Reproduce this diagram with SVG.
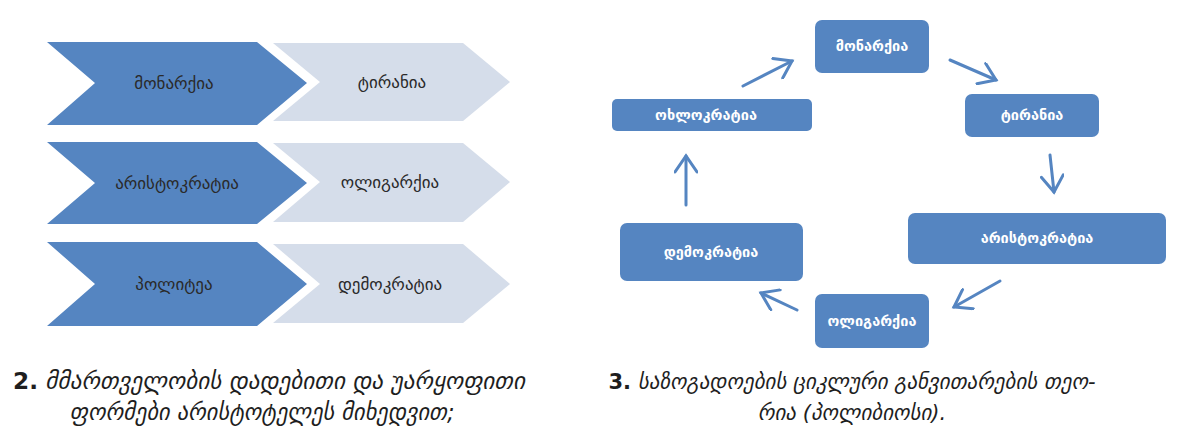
<svg xmlns="http://www.w3.org/2000/svg" width="1195" height="432" viewBox="0 0 1195 432">
<style>
.dark{fill:#5585C1}
.light{fill:#D5DDEA}
.ct{font-family:"DejaVu Sans",sans-serif;font-size:17px;fill:#2a2a2a;text-anchor:middle;dominant-baseline:central}
.bt{font-family:"DejaVu Sans",sans-serif;font-size:14.5px;font-weight:bold;fill:#ffffff;text-anchor:middle;dominant-baseline:central}
.box{fill:#5585C1}
.arr{fill:none;stroke:#5585C1;stroke-width:3;stroke-linecap:round}
.cap{font-family:"DejaVu Sans",sans-serif;font-size:23px;font-style:italic;fill:#1e1e1e;text-anchor:middle}
.cap3{font-size:21px}
.num{font-style:normal;font-weight:bold}
</style>
<defs>
<marker id="ah2" markerWidth="24" markerHeight="24" refX="18" refY="12" orient="auto" markerUnits="userSpaceOnUse" viewBox="0 0 24 24">
<path d="M2,1 L18,12 L2,23" fill="none" stroke="#5585C1" stroke-width="3" stroke-linecap="round"/>
</marker>
</defs>
<rect width="1195" height="432" fill="#ffffff"/>
<g id="row1">
<polygon class="light" points="273,43 463,43 510,82 463,121 273,121 320,82"/>
<polygon class="dark" points="47,42 257,42 307,83 257,125 47,125 95,83"/>
<text class="ct" x="174" y="83">მონარქია</text>
<text class="ct" x="392" y="82">ტირანია</text>
</g>
<g id="row2">
<polygon class="light" points="273,143 463,143 510,182 463,222 273,222 320,182"/>
<polygon class="dark" points="47,142 257,142 307,183 257,224 47,224 95,183"/>
<text class="ct" x="177" y="183">არისტოკრატია</text>
<text class="ct" x="390" y="182">ოლიგარქია</text>
</g>
<g id="row3">
<polygon class="light" points="273,244 463,244 510,284 463,323 273,323 320,284"/>
<polygon class="dark" points="47,242 257,242 307,284 257,326 47,326 95,284"/>
<text class="ct" x="174" y="284">პოლიტეა</text>
<text class="ct" x="390" y="284">დემოკრატია</text>
</g>
<g id="n-monarchy"><rect class="box" x="815" y="20" width="114" height="53" rx="7"/><text class="bt" x="872" y="46">მონარქია</text></g>
<g id="n-tyranny"><rect class="box" x="965" y="94" width="134" height="43" rx="7"/><text class="bt" x="1032" y="115">ტირანია</text></g>
<g id="n-aristocracy"><rect class="box" x="908" y="213" width="258" height="51" rx="7"/><text class="bt" x="1037" y="238">არისტოკრატია</text></g>
<g id="n-oligarchy"><rect class="box" x="815" y="294" width="114" height="54" rx="7"/><text class="bt" x="872" y="321">ოლიგარქია</text></g>
<g id="n-democracy"><rect class="box" x="620" y="223" width="183" height="58" rx="7"/><text class="bt" x="711" y="252">დემოკრატია</text></g>
<g id="n-ochlocracy"><rect class="box" x="612" y="99" width="200" height="32" rx="5"/><text class="bt" x="706" y="115">ოხლოკრატია</text></g>
<g id="connectors">
<line class="arr" x1="743" y1="86" x2="792" y2="61" marker-end="url(#ah2)"/>
<line class="arr" x1="950" y1="60" x2="996" y2="80" marker-end="url(#ah2)"/>
<line class="arr" x1="1050" y1="155" x2="1054" y2="192" marker-end="url(#ah2)"/>
<line class="arr" x1="1000" y1="281" x2="954" y2="307" marker-end="url(#ah2)"/>
<line class="arr" x1="797" y1="310" x2="761" y2="293" marker-end="url(#ah2)"/>
<line class="arr" x1="686" y1="205" x2="686" y2="156" marker-end="url(#ah2)"/>
</g>
<text class="cap" x="269" y="389" textLength="512" lengthAdjust="spacingAndGlyphs"><tspan class="num">2.</tspan> მმართველობის დადებითი და უარყოფითი</text>
<text class="cap" x="262" y="420" textLength="385" lengthAdjust="spacingAndGlyphs">ფორმები არისტოტელეს მიხედვით;</text>
<text class="cap cap3" x="852" y="389"><tspan class="num">3.</tspan> საზოგადოების ციკლური განვითარების თეო-</text>
<text class="cap cap3" x="852" y="420">რია (პოლიბიოსი).</text>
</svg>
